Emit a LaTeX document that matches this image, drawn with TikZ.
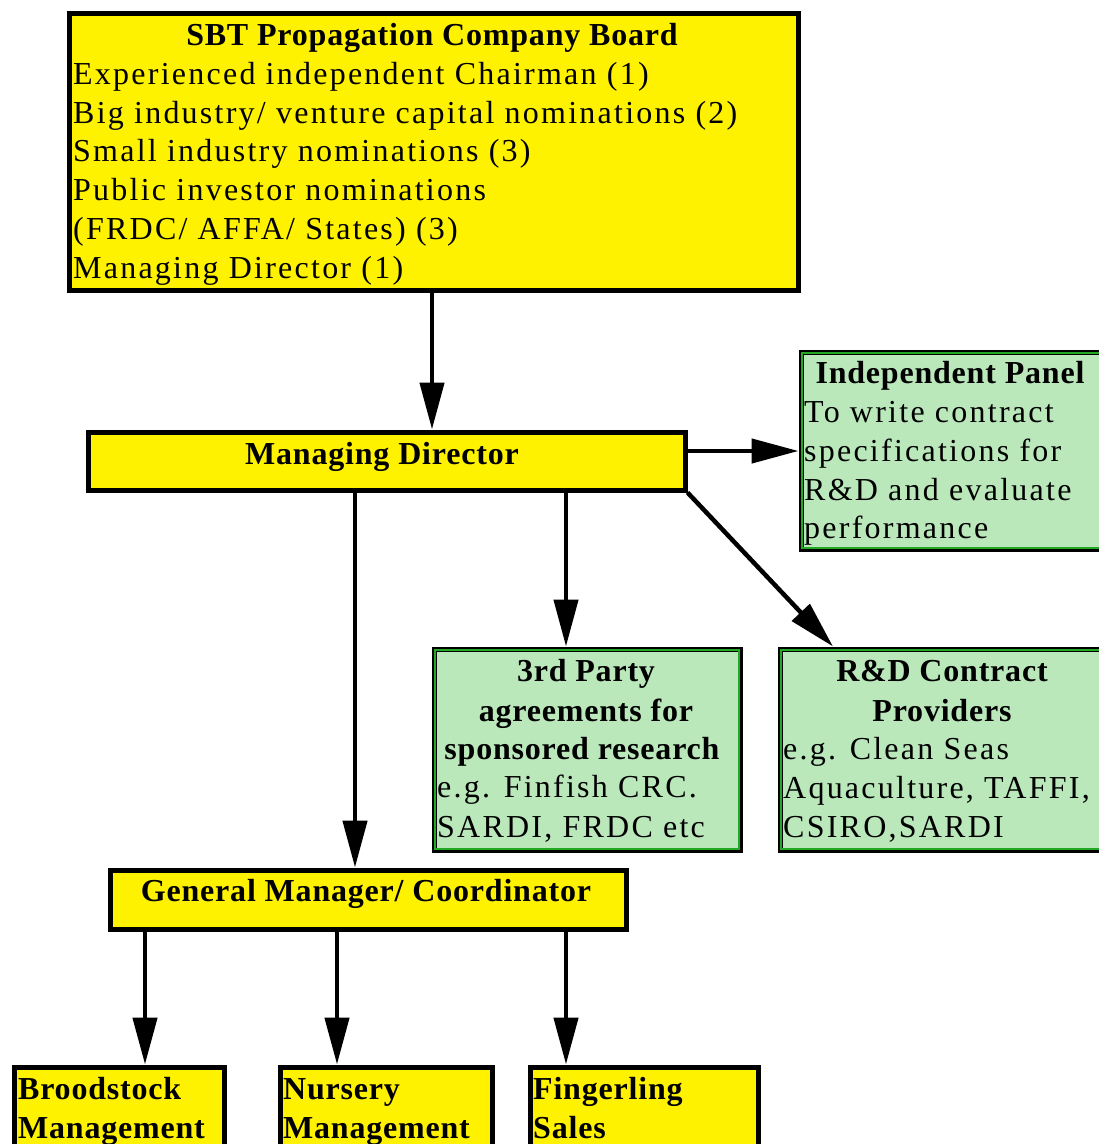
\documentclass[tikz,border=0pt]{standalone}
\usepackage{fontspec}
\setmainfont{Liberation Serif}[LetterSpace=7,BoldFeatures={LetterSpace=2.5}]
\usetikzlibrary{arrows.meta}
\definecolor{boxyellow}{HTML}{FFF200}
\definecolor{boxgreen}{HTML}{BAE8BB}
\definecolor{linegreen}{HTML}{22A822}
\tikzset{
  ybox/.style={rectangle,draw=black,line width=5pt,fill=boxyellow,inner sep=0pt,anchor=north west},
  gbox/.style={rectangle,draw=black,line width=5pt,fill=boxgreen,inner sep=0pt,anchor=north west},
  innerline/.style={draw=linegreen,line width=2.2pt},
  txt/.style={inner sep=0pt,anchor=base west,font=\fontsize{32}{38}\selectfont},
  btxt/.style={inner sep=0pt,anchor=base,font=\fontsize{32}{38}\selectfont\bfseries},
  bltxt/.style={inner sep=0pt,anchor=base west,font=\fontsize{32}{38}\selectfont\bfseries},
  arr/.style={line width=4.5pt,-{Triangle[length=47pt,width=24pt]}},
}
\begin{document}
\begin{tikzpicture}[x=1pt,y=-1pt]
\useasboundingbox (0,0) rectangle (1099,1144);
\clip (0,0) rectangle (1099,1144);
\fill[white] (0,0) rectangle (1099,1144);
% boxes
\node[ybox,minimum width=729pt,minimum height=277pt] (board) at (66.5,10.5) {};
\node[ybox,minimum width=597pt,minimum height=58pt] (md) at (85.5,429.5) {};
\node[gbox,minimum width=340pt,minimum height=197pt] (ip) at (798.5,349.5) {};
\node[gbox,minimum width=306pt,minimum height=201pt] (tp) at (431.5,646.5) {};
\node[gbox,minimum width=340pt,minimum height=201pt] (rd) at (777.5,646.5) {};
\node[ybox,minimum width=516pt,minimum height=59pt] (gm) at (107.5,867.5) {};
\node[ybox,minimum width=210pt,minimum height=120pt] (bs) at (11.5,1064.5) {};
\node[ybox,minimum width=212pt,minimum height=120pt] (ns) at (277.5,1064.5) {};
\node[ybox,minimum width=228pt,minimum height=120pt] (fs) at (527.5,1064.5) {};
\foreach \b in {ip,tp,rd}{
  \draw[innerline] ([shift={(3.8,3.8)}]\b.north west) rectangle ([shift={(-3.8,-3.8)}]\b.south east);
}
% board text
\node[btxt] (bt) at (432,45) {SBT Propagation Company Board};
\node[txt] (b1) at (73,84) {Experienced independent Chairman (1)};
\node[txt] (b2) at (73,123) {Big industry/ venture capital nominations (2)};
\node[txt] (b3) at (73,161) {Small industry nominations (3)};
\node[txt] (b4) at (73,200) {Public investor nominations};
\node[txt] (b5) at (73,239) {(FRDC/ AFFA/ States) (3)};
\node[txt] (b6) at (73,278) {Managing Director (1)};
% managing director
\node[btxt] (mdt) at (382,464) {Managing Director};
% independent panel
\node[btxt] (ipt) at (950,383) {Independent Panel};
\node[txt] (ip1) at (804,422) {To write contract};
\node[txt] (ip2) at (804,461) {specifications for};
\node[txt] (ip3) at (804,500) {R\&D and evaluate};
\node[txt] (ip4) at (804,538) {performance};
% 3rd party
\node[btxt] (tpt1) at (586,681) {3rd Party};
\node[btxt] (tpt2) at (586,721) {agreements for};
\node[btxt] (tpt3) at (582,759) {sponsored research};
\node[txt] (tp1) at (437,797) {e.g. Finfish CRC.};
\node[txt] (tp2) at (437,837) {SARDI, FRDC etc};
% R&D
\node[btxt] (rdt1) at (942,681) {R\&D Contract};
\node[btxt] (rdt2) at (942,721) {Providers};
\node[txt] (rd1) at (783,759) {e.g. Clean Seas};
\node[txt] (rd2) at (783,798) {Aquaculture, TAFFI,};
\node[txt] (rd3) at (783,837) {CSIRO,SARDI};
% GM
\node[btxt] (gmt) at (366,901) {General Manager/ Coordinator};
% bottom
\node[bltxt] (bs1) at (18,1099) {Broodstock};
\node[bltxt] (bs2) at (18,1138) {Management};
\node[bltxt] (ns1) at (283,1099) {Nursery};
\node[bltxt] (ns2) at (283,1138) {Management};
\node[bltxt] (fs1) at (533,1099) {Fingerling};
\node[bltxt] (fs2) at (533,1138) {Sales};
% connector columns
\coordinate (cb) at (432,0);
\coordinate (c3) at (566,0);
\coordinate (cg) at (355,0);
\coordinate (cr) at (833,0);
\coordinate (c1) at (145,0);
\coordinate (c2) at (337,0);
% connectors
\draw[arr] (cb |- board.south) -- (cb |- md.north);
\draw[arr] ([yshift=10pt]md.east) -- ([yshift=10pt]md.east -| ip.west);
\draw[arr] (c3 |- md.south) -- (c3 |- tp.north);
\draw[arr] (md.south east) -- (cr |- rd.north);
\draw[arr] (cg |- md.south) -- (cg |- gm.north);
\draw[arr] (c1 |- gm.south) -- (c1 |- bs.north);
\draw[arr] (c2 |- gm.south) -- (c2 |- ns.north);
\draw[arr] (c3 |- gm.south) -- (c3 |- fs.north);
\end{tikzpicture}
\end{document}
